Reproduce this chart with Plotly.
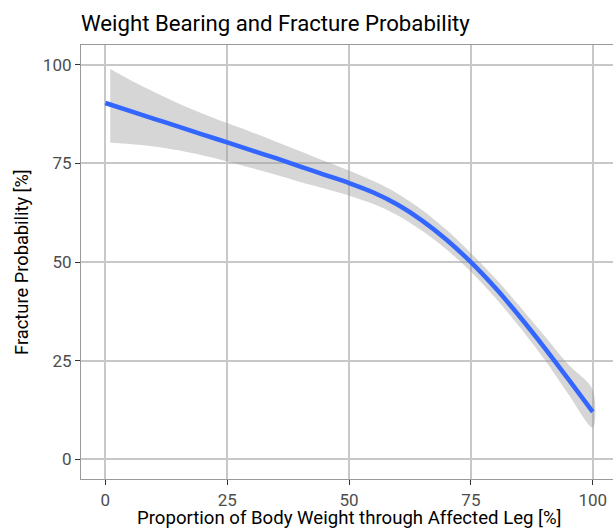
import plotly.graph_objects as go

# Fitted curve
x_fit = [0, 5, 10, 15, 20, 25, 30, 35, 40, 45, 50, 55, 60, 65, 70, 75, 80, 85, 90, 95, 100]
prob_fit = [90.3, 88.3, 86.3, 84.3, 82.3, 80.3, 78.3, 76.3, 74.2, 72.1, 70.0, 67.6, 64.5,
            60.5, 55.65, 49.95, 43.45, 36.2, 28.45, 20.3, 12.0]

# Confidence band
x_band = [1, 5, 10, 15, 20, 25, 30, 35, 40, 45, 50, 55, 60, 65, 70, 75, 80, 85, 90, 95, 100]
band_upper = [98.9, 96.2, 93.1, 90.2, 87.6, 85.2, 82.9, 80.5, 78.1, 75.6, 73.2, 70.5, 67.3,
              63.2, 58.15, 52.25, 45.85, 38.8, 31.45, 24.0, 17.6]
band_lower = [80.2, 79.9, 79.3, 78.3, 77.0, 75.5, 73.8, 72.1, 70.3, 68.6, 66.8, 64.7, 61.8,
              57.9, 53.15, 47.55, 40.95, 33.5, 25.45, 16.5, 8.0]

x_ticks = [0, 25, 50, 75, 100]
y_ticks = [0, 25, 50, 75, 100]

title_text = "Weight Bearing and Fracture Probability"
x_title = "Proportion of Body Weight through Affected Leg [%]"
y_title = "Fracture Probability [%]"

FONT = "Roboto"

fig = go.Figure()
fig.add_trace(go.Scatter(
    x=x_band + x_band[::-1],
    y=band_upper + band_lower[::-1],
    fill="toself", fillcolor="rgba(153,153,153,0.4)",
    line=dict(width=0, shape="spline", smoothing=0.9), mode="lines",
    hoverinfo="skip", showlegend=False))
fig.add_trace(go.Scatter(
    x=x_fit, y=prob_fit, mode="lines",
    line=dict(color="#3366FF", width=4.5, shape="spline", smoothing=0.9),
    showlegend=False))

axis_common = dict(ticks="outside", ticklen=5, tickwidth=1.2, tickcolor="#333333",
                   showgrid=True, gridcolor="#c8c8c8", gridwidth=1.5, zeroline=False,
                   showline=True, linecolor="#9a9a9a", linewidth=1.2,
                   tickfont=dict(family=FONT, size=17, color="#4d4d4d"))

fig.update_layout(
    width=613, height=528,
    margin=dict(l=81, r=0, t=45, b=49),
    plot_bgcolor="white", paper_bgcolor="white",
    font=dict(family=FONT, color="#4d4d4d", size=17),
    title=dict(text=title_text, x=0, xref="paper", xanchor="left",
               y=1 - 23.5 / 528, yref="container", yanchor="middle",
               font=dict(family=FONT, size=22.2, color="black")),
    xaxis=dict(range=[-5, 104.16], tickvals=x_ticks, mirror=True, **axis_common),
    yaxis=dict(range=[-5, 105], tickvals=y_ticks, mirror=False, **axis_common),
    annotations=[
        dict(text=x_title, x=50, xref="x", y=-0.089, yref="paper",
             xanchor="center", yanchor="middle", showarrow=False,
             font=dict(family=FONT, size=18.6, color="black")),
        dict(text=y_title, x=-0.113, xref="paper", y=50, yref="y", textangle=-90,
             xanchor="center", yanchor="middle", showarrow=False,
             font=dict(family=FONT, size=18.3, color="black")),
    ],
)

fig.write_html("out.html")
